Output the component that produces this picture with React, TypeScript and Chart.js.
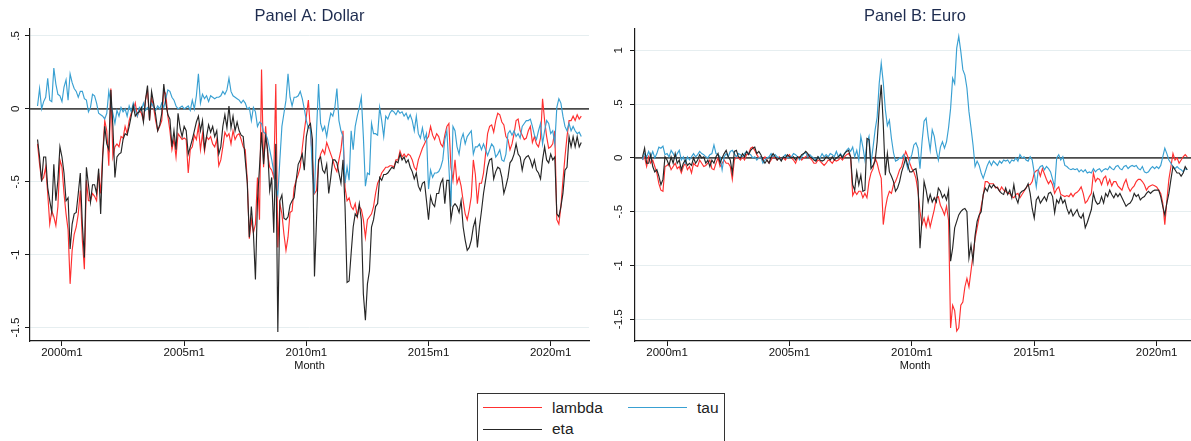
import React, { useEffect, useRef } from 'react';
import { Chart, registerables } from 'chart.js';

Chart.register(...registerables);

// ---------- data ----------
const START_YEAR = 1999; // first observation: 1999m1, monthly
const xTickLabels = ['2000m1', '2005m1', '2010m1', '2015m1', '2020m1'];
const yTicksDollar = [0.5, 0, -0.5, -1, -1.5];
const yTicksEuro = [1, 0.5, 0, -0.5, -1, -1.5];
const seriesNames = ['lambda', 'tau', 'eta'];
const panelTitles = ['Panel A: Dollar', 'Panel B: Euro'];
const xAxisTitle = 'Month';

const lambdaDollar = [
  -0.24, -0.38, -0.49, -0.47, -0.40, -0.58, -0.79, -0.70, -0.74, -0.80, -0.67, -0.35,
  -0.40, -0.58, -0.72, -0.83, -1.20, -0.97, -0.86, -0.81, -0.72, -0.56, -0.90, -1.10,
  -0.49, -0.63, -0.63, -0.58, -0.60, -0.63, -0.44, -0.58, -0.31, -0.08, -0.15, -0.39,
  0.14, -0.33, -0.26, -0.24, -0.26, -0.19, -0.20, -0.12, -0.17, -0.08, -0.03, -0.01,
  0.04, -0.05, -0.01, -0.03, -0.08, 0.06, 0.13, -0.08, 0.08, 0.01, -0.08, -0.15,
  -0.12, -0.08, 0.13, 0.10, -0.05, -0.15, -0.28, -0.21, -0.33, -0.17, -0.19, -0.21,
  -0.20, -0.21, -0.44, -0.28, -0.26, -0.18, -0.21, -0.12, -0.28, -0.17, -0.29, -0.19,
  -0.21, -0.19, -0.24, -0.26, -0.21, -0.39, -0.35, -0.26, -0.16, -0.19, -0.17, -0.24,
  -0.15, -0.21, -0.18, -0.17, -0.21, -0.26, -0.28, -0.49, -0.89, -0.76, -0.85, -0.79,
  -0.47, -0.76, 0.27, -0.40, -0.12, -0.31, -0.40, -0.42, -0.47, 0.17, -0.95, -0.65,
  -0.72, -0.86, -0.97, -0.88, -0.71, -0.70, -0.54, -0.49, -0.45, -0.40, -0.27, -0.15,
  -0.05, 0.06, -0.15, -0.35, -0.58, -0.56, -0.37, -0.31, -0.28, -0.31, -0.23, -0.27,
  -0.31, -0.35, -0.40, -0.43, -0.35, -0.28, -0.15, -0.54, -0.63, -0.61, -0.67, -0.69,
  -0.65, -0.74, -0.67, -0.69, -0.76, -0.88, -0.76, -0.74, -0.72, -0.67, -0.58, -0.51,
  -0.48, -0.44, -0.42, -0.40, -0.40, -0.39, -0.39, -0.40, -0.35, -0.35, -0.29, -0.33,
  -0.31, -0.33, -0.31, -0.32, -0.35, -0.40, -0.42, -0.35, -0.31, -0.27, -0.24, -0.21,
  -0.19, -0.12, -0.18, -0.21, -0.17, -0.19, -0.24, -0.26, -0.18, -0.12, -0.10, -0.40,
  -0.49, -0.35, -0.51, -0.47, -0.53, -0.63, -0.72, -0.76, -0.69, -0.60, -0.35, -0.45,
  -0.65, -0.51, -0.51, -0.44, -0.31, -0.17, -0.12, -0.11, -0.16, -0.08, -0.03, -0.04,
  -0.09, -0.11, -0.19, -0.21, -0.28, -0.24, -0.17, -0.08, -0.07, -0.15, -0.18, -0.21,
  -0.20, -0.15, -0.12, -0.23, -0.19, -0.24, -0.26, -0.20, 0.07, -0.08, -0.19, -0.27,
  -0.26, -0.24, -0.15, -0.76, -0.79, -0.67, -0.49, -0.33, -0.19, -0.08, -0.08, -0.05,
  -0.08, -0.04, -0.07, -0.05,
];

const etaDollar = [
  -0.21, -0.33, -0.50, -0.33, -0.33, -0.54, -0.63, -0.71, -0.38, -0.63, -0.49, -0.26,
  -0.33, -0.44, -0.63, -0.61, -0.96, -0.79, -0.72, -0.71, -0.58, -0.44, -0.79, -1.02,
  -0.40, -0.52, -0.64, -0.52, -0.52, -0.58, -0.41, -0.72, -0.33, -0.12, -0.24, -0.28,
  0.13, -0.12, -0.47, -0.33, -0.31, -0.30, -0.21, -0.17, -0.18, -0.12, -0.05, 0.02,
  -0.05, -0.03, -0.02, 0.01, -0.09, 0.06, 0.16, -0.08, 0.12, 0.04, -0.04, -0.15,
  -0.11, -0.03, 0.17, 0.04, -0.04, -0.07, -0.26, -0.15, -0.28, -0.03, -0.13, -0.19,
  -0.12, -0.15, -0.31, -0.26, -0.21, -0.15, -0.09, -0.05, -0.15, -0.08, -0.27, -0.19,
  -0.11, -0.16, -0.12, -0.19, -0.15, -0.31, -0.26, -0.12, -0.04, -0.13, 0.02, -0.13,
  -0.05, -0.15, -0.09, -0.15, -0.18, -0.19, -0.35, -0.51, -0.88, -0.67, -0.85, -1.17,
  -0.63, -0.40, -0.16, -0.38, -0.19, -0.28, -0.56, -0.47, -0.85, -0.24, -1.53, -0.63,
  -0.59, -0.75, -0.76, -0.74, -0.66, -0.63, -0.61, -0.49, -0.38, -0.35, -0.31, -0.42,
  -0.19, -0.12, -0.10, -0.21, -1.15, -0.76, -0.35, -0.33, -0.42, -0.44, -0.38, -0.58,
  -0.47, -0.35, -0.35, -0.37, -0.44, -0.51, -0.35, -0.67, -1.19, -1.18, -0.99, -0.81,
  -0.72, -0.74, -0.65, -0.76, -1.27, -1.45, -1.20, -1.11, -0.81, -0.76, -0.67, -0.65,
  -0.47, -0.49, -0.45, -0.45, -0.44, -0.42, -0.40, -0.41, -0.36, -0.37, -0.31, -0.35,
  -0.33, -0.37, -0.35, -0.40, -0.43, -0.48, -0.44, -0.53, -0.56, -0.51, -0.50, -0.63,
  -0.76, -0.60, -0.65, -0.67, -0.58, -0.58, -0.51, -0.48, -0.65, -0.49, -0.49, -0.76,
  -0.67, -0.65, -0.67, -0.71, -0.63, -0.81, -0.90, -0.97, -0.95, -0.90, -0.81, -0.76,
  -0.95, -0.81, -0.70, -0.58, -0.49, -0.40, -0.35, -0.34, -0.48, -0.43, -0.40, -0.41,
  -0.47, -0.58, -0.53, -0.47, -0.37, -0.35, -0.31, -0.24, -0.31, -0.33, -0.42, -0.35,
  -0.33, -0.32, -0.35, -0.40, -0.35, -0.42, -0.44, -0.48, -0.35, -0.26, -0.35, -0.37,
  -0.31, -0.35, -0.33, -0.72, -0.74, -0.67, -0.58, -0.42, -0.40, -0.19, -0.26, -0.19,
  -0.26, -0.19, -0.26, -0.23,
];

const tauDollar = [
  0.02, 0.14, 0.00, 0.05, 0.08, 0.21, 0.06, 0.05, 0.28, 0.17, 0.10, 0.09,
  0.05, 0.15, 0.20, 0.06, 0.24, 0.18, 0.14, 0.12, 0.08, 0.12, 0.12, 0.07,
  0.06, -0.02, 0.01, 0.10, 0.09, 0.04, -0.03, -0.04, -0.05, -0.07, -0.03, 0.12,
  0.04, -0.03, -0.10, -0.01, -0.05, 0.01, -0.02, 0.00, -0.05, 0.02, -0.02, 0.04,
  -0.01, -0.05, 0.01, -0.01, 0.04, -0.01, 0.01, -0.01, 0.04, 0.01, -0.01, 0.02,
  0.00, 0.04, 0.01, 0.07, 0.13, 0.12, 0.08, 0.06, 0.02, 0.00, 0.01, 0.02,
  0.00, 0.01, 0.02, -0.01, 0.06, 0.00, 0.09, 0.24, 0.04, 0.10, 0.07, 0.09,
  0.05, 0.09, 0.08, 0.07, 0.08, 0.08, 0.09, 0.12, 0.10, 0.13, 0.21, 0.12,
  0.09, 0.08, 0.07, 0.06, 0.04, 0.06, 0.04, 0.00, 0.01, -0.08, 0.01, -0.02,
  -0.12, -0.09, -0.10, -0.16, -0.17, -0.21, -0.28, -0.35, -0.43, -0.54, -0.59, -0.35,
  -0.12, -0.03, 0.06, 0.24, 0.08, 0.02, 0.08, 0.08, 0.09, 0.12, 0.07, 0.00,
  -0.08, -0.13, -0.13, -0.45, -0.58, -0.15, 0.17, -0.10, -0.15, -0.12, -0.19, -0.10,
  -0.03, -0.05, 0.01, 0.14, -0.08, -0.15, -0.19, -0.51, -0.40, -0.49, -0.15, -0.28,
  -0.12, -0.05, 0.01, 0.08, -0.19, -0.53, -0.44, -0.45, -0.10, -0.17, -0.17, -0.18,
  0.01, -0.08, -0.19, -0.05, -0.07, -0.03, -0.01, -0.02, -0.04, -0.01, -0.03, -0.02,
  -0.05, -0.03, -0.07, -0.04, -0.08, -0.15, -0.05, -0.17, -0.20, -0.13, -0.21, -0.17,
  -0.55, -0.42, -0.47, -0.44, -0.44, -0.43, -0.40, -0.35, -0.21, -0.15, -0.40, -0.67,
  -0.12, -0.15, -0.26, -0.31, -0.21, -0.17, -0.24, -0.19, -0.17, -0.15, -0.31, -0.26,
  -0.26, -0.24, -0.28, -0.24, -0.28, -0.32, -0.28, -0.24, -0.26, -0.33, -0.31, -0.28,
  -0.35, -0.36, -0.31, -0.17, -0.15, -0.18, -0.15, -0.19, -0.17, -0.20, -0.12, -0.10,
  -0.08, -0.08, -0.07, -0.12, -0.18, -0.21, -0.15, -0.10, -0.24, -0.15, -0.08, -0.10,
  -0.17, -0.15, -0.24, 0.01, 0.07, 0.04, -0.05, -0.12, -0.15, -0.10, -0.15, -0.12,
  -0.15, -0.17, -0.16, -0.19,
];

const lambdaEuro = [
  -0.02, 0.01, -0.08, 0.01, -0.05, -0.02, -0.08, -0.14, -0.24, -0.30, -0.31, -0.08,
  -0.07, -0.05, -0.11, -0.08, -0.05, -0.10, -0.08, -0.14, -0.08, -0.05, -0.11, -0.08,
  -0.14, -0.05, -0.07, -0.08, -0.02, -0.05, -0.08, -0.07, -0.05, -0.02, -0.10, -0.11,
  -0.05, 0.00, -0.08, -0.05, -0.02, -0.05, -0.05, -0.08, -0.20, -0.02, 0.01, 0.00,
  -0.02, 0.01, -0.02, 0.03, 0.04, 0.09, 0.10, 0.07, 0.03, 0.00, 0.01, -0.02,
  0.01, -0.02, -0.05, -0.02, 0.01, 0.00, -0.02, 0.01, -0.02, 0.00, -0.02, 0.01,
  0.03, 0.00, -0.02, -0.05, 0.00, 0.01, -0.02, 0.00, 0.01, 0.03, 0.00, -0.02,
  -0.05, -0.05, -0.02, -0.03, -0.05, -0.07, -0.05, -0.02, -0.03, -0.05, -0.02, -0.03,
  -0.02, 0.00, -0.02, 0.01, 0.03, 0.04, 0.01, -0.35, -0.31, -0.34, -0.31, -0.31,
  -0.37, -0.33, -0.37, -0.22, -0.14, -0.10, 0.00, -0.05, -0.13, -0.19, -0.62, -0.47,
  -0.37, -0.31, -0.33, -0.25, -0.22, -0.17, -0.11, -0.08, 0.00, 0.06, 0.01, -0.05,
  -0.10, -0.13, -0.19, -0.31, -0.50, -0.62, -0.56, -0.64, -0.55, -0.64, -0.56, -0.48,
  -0.37, -0.36, -0.44, -0.48, -0.53, -0.45, -0.58, -1.58, -1.37, -1.42, -1.61, -1.58,
  -1.37, -1.34, -1.20, -1.12, -1.20, -1.05, -0.90, -0.75, -0.65, -0.55, -0.45, -0.35,
  -0.22, -0.22, -0.24, -0.24, -0.24, -0.28, -0.27, -0.31, -0.27, -0.30, -0.31, -0.33,
  -0.33, -0.36, -0.37, -0.34, -0.33, -0.37, -0.34, -0.31, -0.28, -0.25, -0.25, -0.22,
  -0.14, -0.12, -0.11, -0.17, -0.10, -0.15, -0.20, -0.24, -0.21, -0.25, -0.33, -0.29,
  -0.27, -0.34, -0.35, -0.36, -0.35, -0.36, -0.33, -0.36, -0.33, -0.32, -0.30, -0.27,
  -0.33, -0.42, -0.40, -0.36, -0.33, -0.14, -0.22, -0.19, -0.20, -0.25, -0.19, -0.17,
  -0.25, -0.20, -0.26, -0.22, -0.22, -0.26, -0.28, -0.30, -0.24, -0.20, -0.27, -0.31,
  -0.28, -0.26, -0.22, -0.20, -0.20, -0.22, -0.25, -0.30, -0.27, -0.26, -0.25, -0.26,
  -0.27, -0.30, -0.33, -0.42, -0.62, -0.40, -0.20, -0.08, 0.04, -0.02, 0.00, -0.05,
  -0.02, 0.01, 0.03, 0.01,
];

const etaEuro = [
  0.01, 0.09, -0.05, -0.05, 0.03, -0.08, -0.13, -0.11, -0.17, -0.25, -0.20, 0.01,
  -0.02, -0.07, 0.01, -0.05, 0.04, -0.05, -0.02, -0.11, -0.05, -0.02, -0.07, -0.05,
  -0.07, 0.00, -0.05, -0.02, 0.03, 0.00, 0.01, -0.05, -0.02, -0.08, -0.02, -0.05,
  0.01, 0.04, -0.05, 0.00, 0.04, 0.07, 0.01, -0.02, -0.14, 0.06, 0.07, 0.01,
  0.00, 0.04, 0.01, 0.06, 0.03, 0.07, 0.09, 0.10, 0.04, 0.06, 0.03, -0.02,
  -0.05, -0.02, -0.05, 0.01, 0.04, 0.01, -0.02, 0.00, -0.03, 0.01, 0.00, 0.03,
  0.01, 0.00, 0.01, -0.02, 0.01, 0.00, 0.03, 0.04, 0.06, 0.04, 0.01, 0.00,
  -0.02, -0.03, 0.01, -0.02, -0.03, -0.02, 0.01, 0.00, -0.02, 0.01, -0.02, 0.00,
  0.01, 0.03, 0.00, 0.04, 0.06, 0.07, 0.01, -0.25, -0.30, -0.13, -0.25, -0.16,
  -0.31, -0.30, 0.18, 0.17, -0.10, -0.07, -0.03, 0.15, 0.46, 0.68, 0.31, -0.16,
  0.04, -0.13, -0.17, -0.22, -0.31, -0.28, -0.22, -0.13, -0.07, 0.00, -0.07, -0.13,
  -0.13, -0.11, -0.10, -0.22, -0.84, -0.56, -0.22, -0.30, -0.41, -0.34, -0.41, -0.37,
  -0.41, -0.28, -0.31, -0.37, -0.34, -0.39, -0.30, -0.96, -0.84, -0.65, -0.59, -0.53,
  -0.50, -0.48, -0.47, -0.50, -0.93, -0.81, -0.96, -0.72, -0.59, -0.53, -0.50, -0.34,
  -0.28, -0.31, -0.25, -0.28, -0.25, -0.27, -0.28, -0.31, -0.33, -0.34, -0.28, -0.34,
  -0.30, -0.37, -0.25, -0.37, -0.42, -0.33, -0.31, -0.30, -0.28, -0.24, -0.33, -0.47,
  -0.56, -0.39, -0.36, -0.42, -0.39, -0.36, -0.40, -0.33, -0.32, -0.36, -0.51, -0.39,
  -0.42, -0.36, -0.42, -0.39, -0.47, -0.52, -0.48, -0.54, -0.51, -0.48, -0.54, -0.56,
  -0.52, -0.65, -0.60, -0.54, -0.48, -0.33, -0.40, -0.43, -0.42, -0.36, -0.42, -0.33,
  -0.36, -0.30, -0.34, -0.37, -0.33, -0.36, -0.33, -0.37, -0.41, -0.45, -0.43, -0.42,
  -0.39, -0.33, -0.36, -0.34, -0.39, -0.37, -0.36, -0.33, -0.31, -0.33, -0.31, -0.30,
  -0.30, -0.30, -0.36, -0.45, -0.53, -0.42, -0.33, -0.20, -0.08, -0.11, -0.14, -0.14,
  -0.17, -0.14, -0.08, -0.11,
];

const tauEuro = [
  -0.02, 0.04, 0.01, 0.06, 0.01, 0.06, 0.00, 0.04, 0.10, 0.09, 0.11, 0.03,
  0.04, 0.01, 0.07, 0.04, 0.00, 0.04, 0.07, -0.02, 0.01, -0.05, 0.01, -0.02,
  0.01, 0.04, 0.01, 0.03, 0.06, 0.04, 0.03, 0.01, 0.00, 0.03, 0.04, 0.12,
  0.04, 0.03, 0.01, -0.11, 0.01, 0.04, 0.01, 0.06, 0.07, 0.04, 0.01, 0.04,
  0.03, 0.01, 0.04, 0.06, 0.04, 0.03, 0.00, 0.01, -0.02, 0.00, 0.01, -0.05,
  -0.02, 0.00, 0.01, 0.04, 0.01, 0.03, 0.01, 0.00, -0.02, 0.01, 0.03, 0.00,
  0.01, 0.01, 0.04, 0.03, 0.01, -0.02, 0.01, 0.04, 0.05, 0.01, 0.03, 0.01,
  0.00, -0.02, 0.01, 0.00, 0.04, 0.01, 0.03, 0.01, 0.04, 0.03, 0.01, 0.06,
  0.01, 0.04, 0.01, 0.04, 0.07, 0.09, 0.06, 0.10, 0.01, 0.07, -0.02, 0.20,
  0.10, -0.02, 0.14, 0.20, -0.05, 0.10, 0.26, 0.38, 0.69, 0.88, 0.70, 0.45,
  0.30, 0.35, 0.18, 0.05, -0.03, -0.02, 0.00, 0.00, 0.03, -0.03, -0.10, -0.02,
  0.03, 0.12, 0.14, 0.09, -0.10, 0.15, 0.34, 0.37, 0.20, 0.07, 0.26, 0.20,
  0.07, -0.02, 0.10, 0.15, 0.09, 0.15, 0.28, 0.46, 0.74, 0.69, 1.02, 1.13,
  0.99, 0.82, 0.77, 0.65, 0.43, 0.28, 0.12, -0.08, -0.03, -0.07, -0.14, -0.19,
  -0.13, -0.07, -0.03, -0.07, -0.03, -0.05, -0.07, -0.03, -0.05, -0.02, -0.03, -0.02,
  -0.05, -0.02, -0.03, 0.00, -0.03, 0.03, 0.00, 0.01, -0.02, -0.03, 0.01, -0.02,
  -0.14, -0.27, -0.11, -0.08, -0.07, -0.11, -0.08, -0.10, -0.13, -0.20, -0.27, 0.00,
  0.03, -0.02, 0.01, -0.07, -0.08, -0.10, -0.11, -0.10, -0.11, -0.10, -0.13, -0.11,
  -0.13, -0.11, -0.14, -0.13, -0.14, -0.10, -0.13, -0.11, -0.10, -0.13, -0.11, -0.10,
  -0.11, -0.08, -0.10, -0.11, -0.08, -0.07, -0.10, -0.11, -0.08, -0.07, -0.10, -0.08,
  -0.07, -0.08, -0.07, -0.10, -0.11, -0.08, -0.13, -0.14, -0.13, -0.10, -0.08, -0.10,
  -0.08, -0.10, -0.07, 0.01, 0.09, 0.04, -0.02, -0.05, -0.08, -0.10, -0.08, -0.10,
  -0.11, -0.13, -0.10, -0.11,
];

// ---------- style ----------
const FONT = '"Liberation Sans", Arial, Helvetica, sans-serif';
const C_LAMBDA = '#ff3030';
const C_TAU = '#39a0d2';
const C_ETA = '#262626';
const C_AXIS = '#1a1a1a';
const C_GRID = '#e6eef0';
const C_TITLE = '#1e2c4f';
const C_ZERO = '#4a4a4a';
const X_MIN = -3.7;
const X_MAX = 270.8;

const monthIndex = (label: string) => {
  const [y, m] = label.split('m').map(Number);
  return (y - START_YEAR) * 12 + (m - 1);
};
const xTickValues = xTickLabels.map(monthIndex);
const fmtY = (v: number) => String(v).replace('0.', '.');
const toXY = (arr: number[]) => arr.map((v, i) => ({ x: i, y: v }));

const framePlugin = {
  id: 'frame',
  beforeDatasetsDraw(chart: any) {
    const { ctx, chartArea } = chart;
    const y0 = chart.scales.y.getPixelForValue(0);
    ctx.save();
    ctx.strokeStyle = C_ZERO;
    ctx.lineWidth = 1.7;
    ctx.beginPath();
    ctx.moveTo(chartArea.left, y0);
    ctx.lineTo(chartArea.right, y0);
    ctx.stroke();
    ctx.restore();
  },
  afterDraw(chart: any, _a: any, opts: any) {
    const { ctx, chartArea } = chart;
    const cx = (chartArea.left + chartArea.right) / 2;
    ctx.save();
    ctx.fillStyle = C_TITLE;
    ctx.font = `16.5px ${FONT}`;
    ctx.textAlign = 'center';
    ctx.textBaseline = 'middle';
    ctx.fillText(opts.title, cx, 16);
    ctx.fillStyle = '#111';
    ctx.font = `11px ${FONT}`;
    ctx.fillText(opts.xTitle, cx, 366);
    ctx.font = `11.5px ${FONT}`;
    const ys = chart.scales.y;
    for (const v of opts.yTicks) {
      const py = ys.getPixelForValue(v);
      ctx.save();
      ctx.translate(chartArea.left - opts.yLabelOffset, py);
      ctx.rotate(-Math.PI / 2);
      ctx.fillText(fmtY(v), 0, 0);
      ctx.restore();
    }
    ctx.restore();
  },
};

type PanelProps = {
  title: string;
  lambda: number[];
  tau: number[];
  eta: number[];
  yTicks: number[];
  yMin: number;
  yMax: number;
  left: number;
  width: number;
  yAxisWidth: number;
  padRight: number;
  yLabelOffset: number;
};

const HEIGHT = 385;

function Panel(p: PanelProps) {
  const ref = useRef<HTMLCanvasElement>(null);
  useEffect(() => {
    if (!ref.current) return;
    const common = { pointRadius: 0, borderWidth: 1.15, tension: 0, fill: false };
    const chart = new Chart(ref.current, {
      type: 'line',
      data: {
        datasets: [
          { label: seriesNames[2], data: toXY(p.eta), borderColor: C_ETA, order: 1, ...common },
          { label: seriesNames[1], data: toXY(p.tau), borderColor: C_TAU, order: 2, ...common },
          { label: seriesNames[0], data: toXY(p.lambda), borderColor: C_LAMBDA, order: 3, ...common },
        ],
      },
      options: {
        responsive: false,
        animation: false,
        devicePixelRatio: 1,
        layout: { padding: { left: 0, right: p.padRight, top: 29, bottom: 0 } },
        plugins: {
          legend: { display: false },
          tooltip: { enabled: false },
          title: { display: false },
          frame: { title: p.title, xTitle: xAxisTitle, yTicks: p.yTicks, yLabelOffset: p.yLabelOffset },
        } as any,
        scales: {
          x: {
            type: 'linear',
            min: X_MIN,
            max: X_MAX,
            afterBuildTicks: (s: any) => {
              s.ticks = xTickValues.map((v) => ({ value: v }));
            },
            afterFit: (s: any) => {
              s.height = 44;
            },
            ticks: {
              autoSkip: false,
              maxRotation: 0,
              minRotation: 0,
              padding: 0,
              color: '#111',
              font: { family: FONT, size: 11.5 },
              callback: (v: any) => {
                const k = xTickValues.indexOf(Number(v));
                return k >= 0 ? xTickLabels[k] : '';
              },
            },
            grid: { display: true, drawOnChartArea: false, drawTicks: true, tickLength: 5, color: C_AXIS, lineWidth: 1 },
            border: { display: true, color: C_AXIS, width: 1.2 },
          },
          y: {
            type: 'linear',
            min: p.yMin,
            max: p.yMax,
            afterBuildTicks: (s: any) => {
              s.ticks = p.yTicks.map((v) => ({ value: v }));
            },
            afterFit: (s: any) => {
              s.width = p.yAxisWidth;
            },
            ticks: { display: false },
            grid: { display: true, drawOnChartArea: true, drawTicks: true, tickLength: 5, color: C_GRID, tickColor: C_AXIS, lineWidth: 1 },
            border: { display: true, color: C_AXIS, width: 1.2 },
          },
        },
      } as any,
      plugins: [framePlugin as any],
    });
    return () => chart.destroy();
  }, []);
  return (
    <canvas
      ref={ref}
      width={p.width}
      height={HEIGHT}
      style={{ position: 'absolute', left: p.left, top: 0, width: p.width, height: HEIGHT }}
    />
  );
}

function LegendItem({ color, label, x, y }: { color: string; label: string; x: number; y: number }) {
  return (
    <>
      <div style={{ position: 'absolute', left: x, top: y - 0.75, width: 59, height: 1.5, background: color }} />
      <div
        style={{
          position: 'absolute',
          left: x + 69,
          top: y - 9,
          height: 18,
          lineHeight: '18px',
          fontSize: '15.5px',
          fontFamily: FONT,
          color: '#222',
          whiteSpace: 'nowrap',
        }}
      >
        {label}
      </div>
    </>
  );
}

export default function App() {
  return (
    <div style={{ position: 'absolute', left: 0, top: 0, width: 1191, height: 441, overflow: 'hidden', background: '#fff' }}>
      <Panel
        title={panelTitles[0]}
        lambda={lambdaDollar}
        tau={tauDollar}
        eta={etaDollar}
        yTicks={yTicksDollar}
        yMin={-1.592}
        yMax={0.548}
        left={0}
        width={595}
        yAxisWidth={30}
        padRight={6}
        yLabelOffset={14}
      />
      <Panel
        title={panelTitles[1]}
        lambda={lambdaEuro}
        tau={tauEuro}
        eta={etaEuro}
        yTicks={yTicksEuro}
        yMin={-1.702}
        yMax={1.198}
        left={595}
        width={606}
        yAxisWidth={40}
        padRight={6}
        yLabelOffset={16}
      />
      <div
        style={{
          position: 'absolute',
          left: 476.5,
          top: 392.5,
          width: 248,
          height: 60,
          border: '1px solid #333',
          boxSizing: 'border-box',
          background: '#fff',
        }}
      />
      <div style={{ position: 'absolute', left: 0, top: 0 }}>
        <LegendItem color={C_LAMBDA} label={seriesNames[0]} x={483} y={407.7} />
        <LegendItem color={C_TAU} label={seriesNames[1]} x={628} y={407.7} />
        <LegendItem color={C_ETA} label={seriesNames[2]} x={483} y={429.3} />
      </div>
    </div>
  );
}
